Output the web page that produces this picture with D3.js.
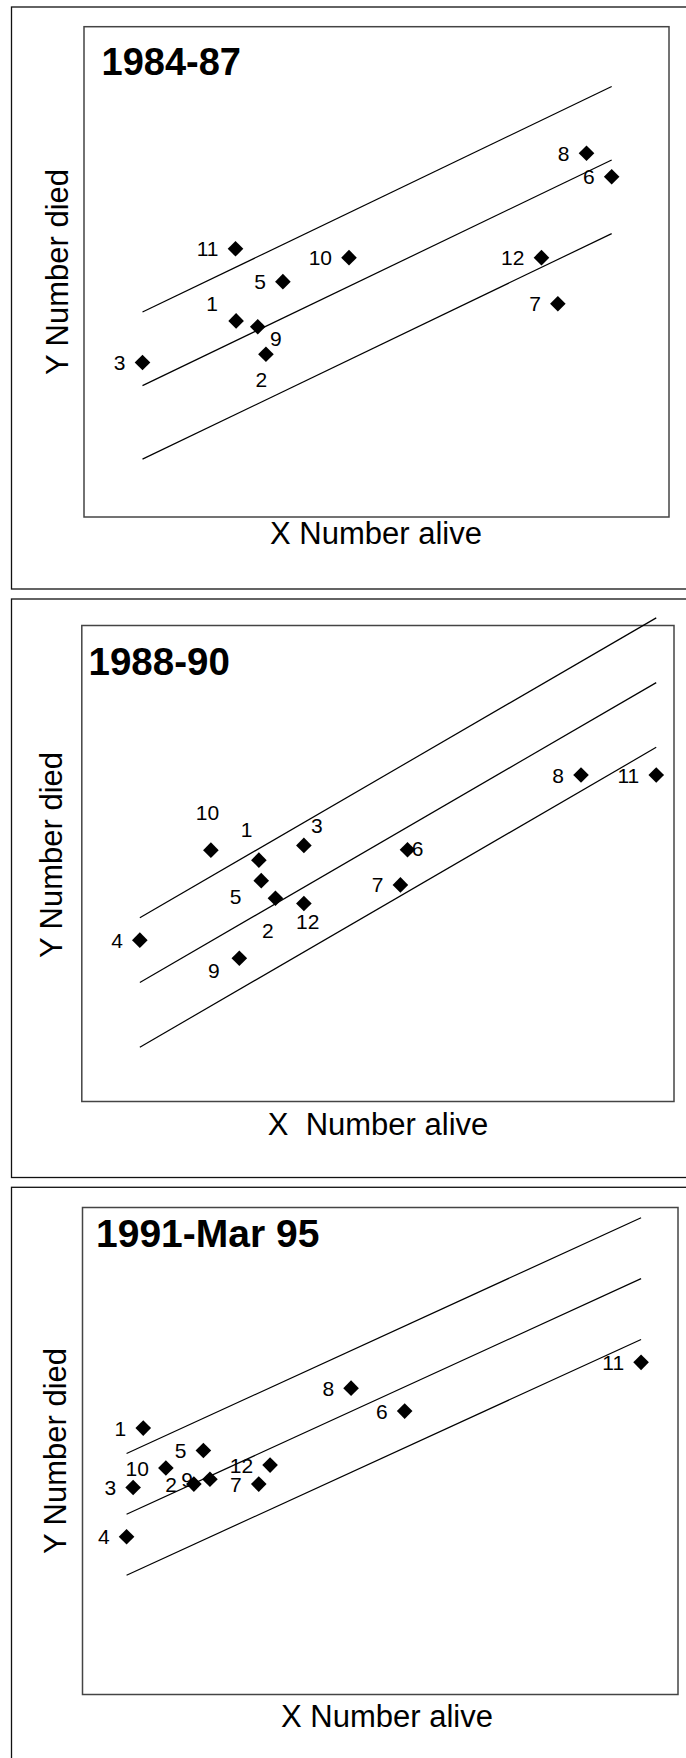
<!DOCTYPE html>
<html>
<head>
<meta charset="utf-8">
<script src="https://cdn.jsdelivr.net/npm/d3@7"></script>
<style>
body { margin: 0; background: #fff; }
text { font-family: "Liberation Sans", Arial, sans-serif; white-space: pre; }
</style>
</head>
<body>
<script>
// --- data (arbitrary 0-100 units, axes have no ticks) ---
const titles = ["1984-87", "1988-90", "1991-Mar 95"];
const xTitles = ["X Number alive", "X  Number alive", "X Number alive"];
const yTitle = "Y Number died";

const ids1   = [1, 2, 3, 5, 6, 7, 8, 9, 10, 11, 12];
const alive1 = [26.0, 31.1, 10.0, 34.0, 90.2, 81.0, 85.9, 29.7, 45.3, 25.9, 78.2];
const died1  = [40.0, 33.2, 31.5, 48.0, 69.4, 43.5, 74.2, 38.8, 52.9, 54.7, 52.9];
const fitX1 = [10.0, 90.2];
const fitY1 = [26.8, 72.8];
const band1 = 15;

const ids2   = [1, 2, 3, 4, 5, 6, 7, 8, 9, 10, 11, 12];
const alive2 = [29.9, 32.7, 37.5, 9.8, 30.3, 55.0, 53.8, 84.3, 26.6, 21.8, 97.0, 37.5];
const died2  = [50.7, 42.7, 53.8, 33.9, 46.4, 52.9, 45.5, 68.6, 30.1, 52.8, 68.6, 41.6];
const fitX2 = [9.8, 97.0];
const fitY2 = [25.0, 88.0];
const band2 = 13.6;

const ids3   = [1, 2, 3, 4, 5, 6, 7, 8, 9, 10, 11, 12];
const alive3 = [10.2, 18.7, 8.5, 7.4, 20.3, 54.1, 29.6, 45.1, 21.4, 14.0, 93.8, 31.5];
const died3  = [54.7, 43.2, 42.5, 32.4, 50.1, 58.2, 43.2, 62.9, 44.2, 46.5, 68.2, 47.1];
const fitX3 = [7.4, 93.8];
const fitY3 = [37.0, 85.4];
const band3 = 12.5;

// --- layout ---
const w = 686, h = 1758;
const panels = [
  {ids: ids1, x: alive1, y: died1, fx: fitX1, fy: fitY1, band: band1,
   outer: [7, 589], box: [84, 26.7, 669, 517], title: [101.5, 75, 38], xLab: [376, 544], yLab: [68, 272]},
  {ids: ids2, x: alive2, y: died2, fx: fitX2, fy: fitY2, band: band2,
   outer: [599, 1177.5], box: [81.8, 625.5, 674, 1101.5], title: [88.5, 675, 38.5], xLab: [378, 1135], yLab: [62, 855]},
  {ids: ids3, x: alive3, y: died3, fx: fitX3, fy: fitY3, band: band3,
   outer: [1187.3, 1775], box: [82.5, 1207.5, 678, 1694.5], title: [96, 1246.7, 39], xLab: [387, 1727], yLab: [66, 1451]}
];

// label nudges (centre offset from the marker); others sit to the left
const nudges = [
  {1: [-24, -17], 9: [18, 12], 2: [-4.5, 25]},
  {10: [-3.5, -38], 1: [-12.3, -30.3], 3: [13, -20], 5: [-25.7, 15.6],
   2: [-7.7, 32.5], 12: [3.8, 18], 9: [-25.5, 12.5], 6: [10, -1]},
  {}
];

const svg = d3.select("body")
  .append("svg")
  .attr("width", w)
  .attr("height", h);

svg.append("rect").attr("width", w).attr("height", h).attr("fill", "#fff");

const diamond = d3.symbol().type(d3.symbolSquare).size(122);

panels.forEach((p, i) => {
  const g = svg.append("g");
  const [bx0, by0, bx1, by1] = p.box;

  const xScale = d3.scaleLinear().domain([0, 100]).range([bx0, bx1]);
  const yScale = d3.scaleLinear().domain([0, 100]).range([by1, by0]);

  // outer frame
  g.append("rect")
    .attr("x", 11.5).attr("y", p.outer[0])
    .attr("width", 690).attr("height", p.outer[1] - p.outer[0])
    .attr("fill", "none").attr("stroke", "#111").attr("stroke-width", 1.3);

  // plot area frame
  g.append("rect")
    .attr("x", bx0).attr("y", by0)
    .attr("width", bx1 - bx0).attr("height", by1 - by0)
    .attr("fill", "none").attr("stroke", "#444").attr("stroke-width", 1.5);

  // fitted line and limits
  [-p.band, 0, p.band].forEach(off => {
    g.append("line")
      .attr("x1", xScale(p.fx[0])).attr("y1", yScale(p.fy[0] + off))
      .attr("x2", xScale(p.fx[1])).attr("y2", yScale(p.fy[1] + off))
      .attr("stroke", "#000").attr("stroke-width", 1.2);
  });

  const pts = p.ids.map((id, k) => ({id: id, x: p.x[k], y: p.y[k]}));

  g.selectAll("path.dot")
    .data(pts)
    .enter()
    .append("path")
    .attr("class", "dot")
    .attr("d", diamond)
    .attr("transform", d => "translate(" + xScale(d.x) + "," + yScale(d.y) + ") rotate(45)")
    .attr("fill", "#000");

  g.selectAll("text.lab")
    .data(pts)
    .enter()
    .append("text")
    .attr("class", "lab")
    .attr("font-size", 21)
    .attr("dy", "0.36em")
    .each(function(d) {
      const n = nudges[i][d.id];
      const t = d3.select(this);
      if (n) {
        t.attr("x", xScale(d.x) + n[0]).attr("y", yScale(d.y) + n[1]).attr("text-anchor", "middle");
      } else {
        t.attr("x", xScale(d.x) - 17).attr("y", yScale(d.y)).attr("text-anchor", "end");
      }
    })
    .text(d => d.id);

  g.append("text")
    .attr("x", p.title[0]).attr("y", p.title[1])
    .attr("font-size", p.title[2]).attr("font-weight", "bold")
    .text(titles[i]);

  g.append("text")
    .attr("x", p.xLab[0]).attr("y", p.xLab[1])
    .attr("text-anchor", "middle").attr("font-size", 31)
    .text(xTitles[i]);

  g.append("text")
    .attr("transform", "translate(" + p.yLab[0] + "," + p.yLab[1] + ") rotate(-90)")
    .attr("text-anchor", "middle").attr("font-size", 31)
    .text(yTitle);
});
</script>
</body>
</html>
